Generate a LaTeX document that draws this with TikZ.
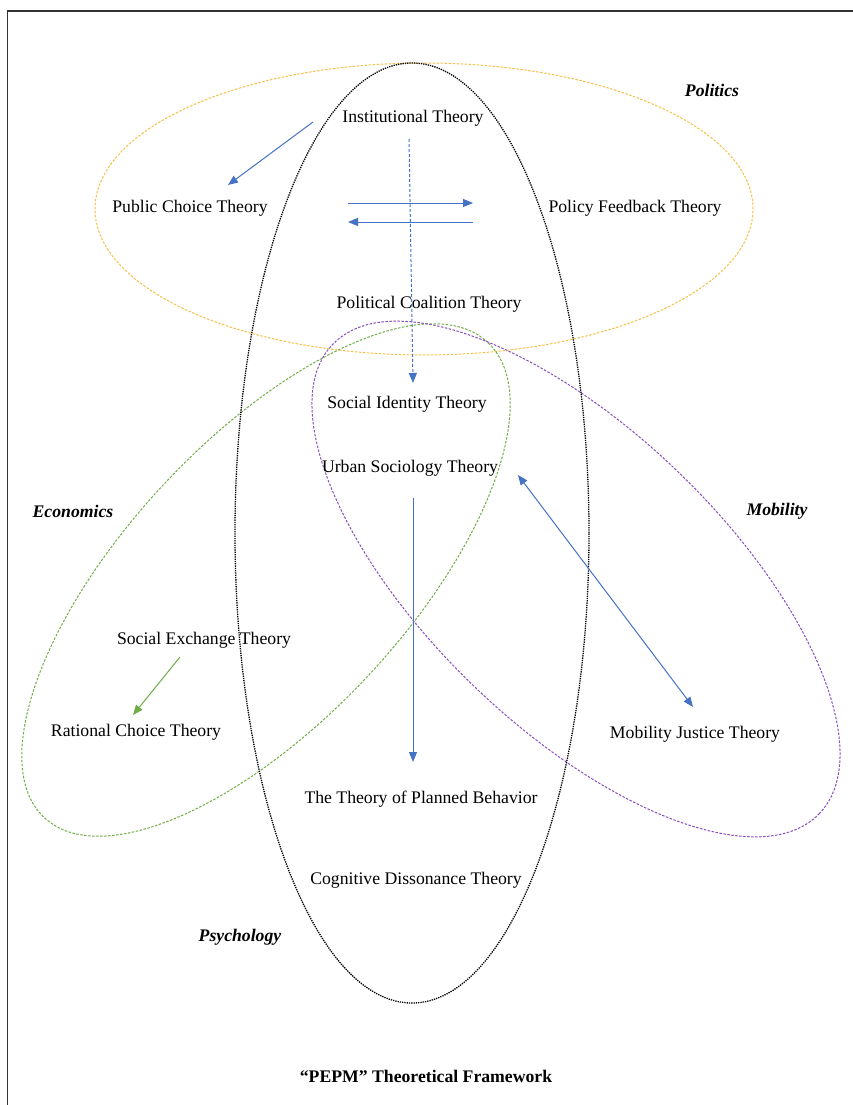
\documentclass[tikz,border=0pt]{standalone}
\usepackage{fontspec}
\setmainfont{Liberation Serif}
\usetikzlibrary{arrows.meta}

\definecolor{polorange}{RGB}{247,190,72}
\definecolor{ecogreen}{RGB}{112,173,71}
\definecolor{mobpurple}{RGB}{136,78,190}
\definecolor{linkblue}{RGB}{68,114,196}

\tikzset{
  theory/.style={font=\fontsize{17.7}{20}\selectfont, inner sep=0pt, yshift=-2pt},
  field/.style={font=\fontsize{17.7}{20}\selectfont\bfseries\itshape, inner sep=0pt, yshift=-1pt},
  link/.style={draw=linkblue, line width=1pt, -{Triangle[length=10pt,width=8pt]}},
  arealine/.style={line width=1pt, dash pattern=on 2.5pt off 1.5pt}
}

\begin{document}
\begin{tikzpicture}[x=1pt, y=-1pt]
\useasboundingbox (0,0) rectangle (853,1105);
\draw[line width=1.5pt, black!80] (853,11) -- (7.5,11) -- (7.5,1105);

\draw[arealine, polorange] (424,209) ellipse[x radius=329pt, y radius=146pt];
\draw[arealine, ecogreen, rotate around={47:(266,580)}] (266,580) ellipse[x radius=325pt, y radius=140pt];
\draw[arealine, mobpurple, rotate around={-44:(576,579)}] (576,579) ellipse[x radius=338pt, y radius=148pt];
\draw[line width=1.3pt, densely dotted] (412,533) ellipse[x radius=177pt, y radius=470pt];

\node[field] (politics) at (712,89) {Politics};
\node[field] (economics) at (73,510) {Economics};
\node[field] (mobility) at (777,510) {Mobility};
\node[field] (psychology) at (240,936) {Psychology};

\node[theory] (inst) at (413,116) {Institutional Theory};
\node[theory] (pubchoice) at (190,206) {Public Choice Theory};
\node[theory] (feedback) at (635,206) {Policy Feedback Theory};
\node[theory] (coalition) at (429,302) {Political Coalition Theory};
\node[theory] (identity) at (407,402) {Social Identity Theory};
\node[theory] (urban) at (410,466) {Urban Sociology Theory};
\node[theory] (exchange) at (204,638) {Social Exchange Theory};
\node[theory] (rational) at (136,730) {Rational Choice Theory};
\node[theory] (justice) at (695,732) {Mobility Justice Theory};
\node[theory] (planned) at (421,797) {The Theory of Planned Behavior};
\node[theory] (dissonance) at (416,878) {Cognitive Dissonance Theory};
\node[font=\fontsize{17.7}{20}\selectfont\bfseries, inner sep=0pt, yshift=-1pt] (title) at (426,1075) {“PEPM” Theoretical Framework};

\coordinate (inst-out) at (313,122);
\coordinate (pub-in) at (228,185);
\coordinate (to-right-a) at (348,203);
\coordinate (to-right-b) at (473,203);
\coordinate (to-left-a) at (473,222);
\coordinate (to-left-b) at (348,222);
\coordinate (inst-down) at (409,139);
\coordinate (identity-in) at (413,383);
\coordinate (urban-out) at (413,498);
\coordinate (planned-in) at (413,762);
\coordinate (urban-side) at (518,475);
\coordinate (justice-in) at (693,707);
\coordinate (exchange-out) at (180,657);
\coordinate (rational-in) at (133,715);

\draw[link] (inst-out) -- (pub-in);
\draw[link] (to-right-a) -- (to-right-b);
\draw[link] (to-left-a) -- (to-left-b);
\draw[link, dash pattern=on 3pt off 2pt] (inst-down) -- (identity-in);
\draw[link] (urban-out) -- (planned-in);
\draw[link, {Triangle[length=10pt,width=8pt]}-{Triangle[length=10pt,width=8pt]}] (urban-side) -- (justice-in);
\draw[link, draw=ecogreen, -{Triangle[length=10pt,width=8pt,fill=ecogreen]}] (exchange-out) -- (rational-in);
\end{tikzpicture}
\end{document}
